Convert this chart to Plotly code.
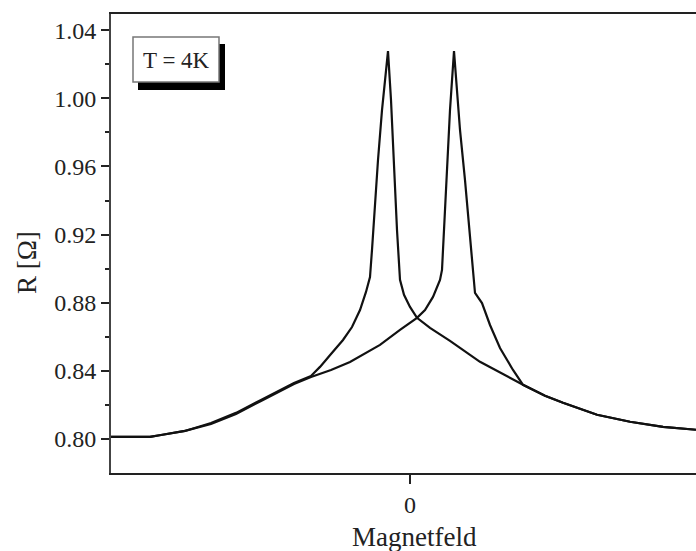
import plotly.graph_objects as go

# Magnetic field (arbitrary units, 0 = zero field) and resistance R [Ohm]
field_up = [-2.99, -2.60, -2.49, -2.25, -1.99, -1.74, -1.49, -1.16, -0.99, -0.90,
            -0.79, -0.67, -0.58, -0.50, -0.44, -0.40, -0.38, -0.35, -0.32, -0.28,
            -0.22, -0.19, -0.16, -0.13, -0.10, -0.06, 0.00, 0.07, 0.20, 0.40,
            0.70, 0.90, 1.13, 1.35, 1.53, 1.87, 2.20, 2.53, 2.86]
r_up = [0.8012, 0.8012, 0.8023, 0.8047, 0.8094, 0.8153, 0.8229, 0.8329, 0.8370, 0.8423,
        0.8499, 0.8581, 0.8657, 0.8757, 0.8863, 0.8951, 0.9110, 0.9403, 0.9638, 0.9931,
        1.0277, 0.9990, 0.9579, 0.9227, 0.8934, 0.8846, 0.8775, 0.8711, 0.8652, 0.8576,
        0.8453, 0.8388, 0.8318, 0.8253, 0.8212, 0.8142, 0.8101, 0.8071, 0.8054]

field_down = [-2.99, -2.60, -2.49, -2.25, -1.99, -1.74, -1.49, -1.16, -0.99, -0.79,
              -0.60, -0.30, -0.10, 0.07, 0.15, 0.23, 0.30, 0.32, 0.34, 0.37,
              0.40, 0.44, 0.47, 0.50, 0.55, 0.60, 0.65, 0.72, 0.80, 0.90,
              1.03, 1.13, 1.35, 1.53, 1.87, 2.20, 2.53, 2.86]
r_down = [0.8012, 0.8012, 0.8023, 0.8047, 0.8088, 0.8147, 0.8223, 0.8323, 0.8364, 0.8405,
          0.8452, 0.8552, 0.8640, 0.8711, 0.8757, 0.8834, 0.8934, 0.8992, 0.9227, 0.9579,
          0.9931, 1.0277, 1.0048, 0.9814, 0.9520, 0.9168, 0.8857, 0.8798, 0.8669, 0.8534,
          0.8405, 0.8318, 0.8253, 0.8212, 0.8142, 0.8101, 0.8071, 0.8054]

y_ticks = [0.80, 0.84, 0.88, 0.92, 0.96, 1.00, 1.04]
y_tick_text = ["0.80", "0.84", "0.88", "0.92", "0.96", "1.00", "1.04"]
y_minor = [0.82, 0.86, 0.90, 0.94, 0.98, 1.02]
x_ticks = [0]
x_tick_text = ["0"]

FONT = "Liberation Serif, Times New Roman, serif"
W, H = 696, 551
L, R, T, B = 111, 0, 14, 78

fig = go.Figure()
fig.add_trace(go.Scatter(x=field_up, y=r_up, mode="lines",
                         line=dict(color="#111111", width=2.2), showlegend=False))
fig.add_trace(go.Scatter(x=field_down, y=r_down, mode="lines",
                         line=dict(color="#111111", width=2.2), showlegend=False))

def px_x(p):
    return (p - L) / (W - L - R)

def px_y(p):
    return 1 - (p - T) / (H - T - B)

# legend-like label box with drop shadow
fig.add_shape(type="rect", xref="paper", yref="paper",
              x0=px_x(138), x1=px_x(225), y0=px_y(90), y1=px_y(44),
              fillcolor="#000000", line=dict(width=0), layer="above")
fig.add_shape(type="rect", xref="paper", yref="paper",
              x0=px_x(133), x1=px_x(219), y0=px_y(82), y1=px_y(37),
              fillcolor="#ffffff", line=dict(color="#777777", width=1.5), layer="above")
fig.add_annotation(xref="paper", yref="paper", x=px_x(176), y=px_y(60),
                   text="T = 4K", showarrow=False,
                   font=dict(family=FONT, size=23, color="#222222"),
                   xanchor="center", yanchor="middle")

# axis titles
fig.add_annotation(xref="paper", yref="paper", x=px_x(414), y=px_y(537),
                   text="Magnetfeld", showarrow=False,
                   font=dict(family=FONT, size=27, color="#222222"),
                   xanchor="center", yanchor="middle")
fig.add_annotation(xref="paper", yref="paper", x=px_x(27), y=px_y(263),
                   text="R [Ω]", showarrow=False, textangle=-90,
                   font=dict(family=FONT, size=27, color="#222222"),
                   xanchor="center", yanchor="middle")

fig.update_layout(
    width=W, height=H, autosize=False,
    margin=dict(l=L, r=R, t=T, b=B, pad=0),
    paper_bgcolor="white", plot_bgcolor="white",
    font=dict(family=FONT, size=24, color="#222222"),
    xaxis=dict(range=[-2.99, 2.86], showgrid=False, zeroline=False,
               showline=True, linecolor="#222222", linewidth=2, mirror=True,
               tickvals=x_ticks, ticktext=x_tick_text, ticks="outside",
               ticklen=9, tickwidth=1.5, tickcolor="#222222",
               tickfont=dict(family=FONT, size=24, color="#222222")),
    yaxis=dict(range=[0.7800, 1.0495], showgrid=False, zeroline=False,
               showline=True, linecolor="#444444", linewidth=2, mirror=False,
               tickvals=y_ticks, ticktext=y_tick_text, ticks="outside",
               ticklen=8, tickwidth=1.5, tickcolor="#222222",
               tickfont=dict(family=FONT, size=24, color="#222222"),
               minor=dict(tickvals=y_minor,
                          ticks="outside", ticklen=4, tickwidth=1.5,
                          tickcolor="#222222", showgrid=False)),
)

fig.write_html("out.html")
